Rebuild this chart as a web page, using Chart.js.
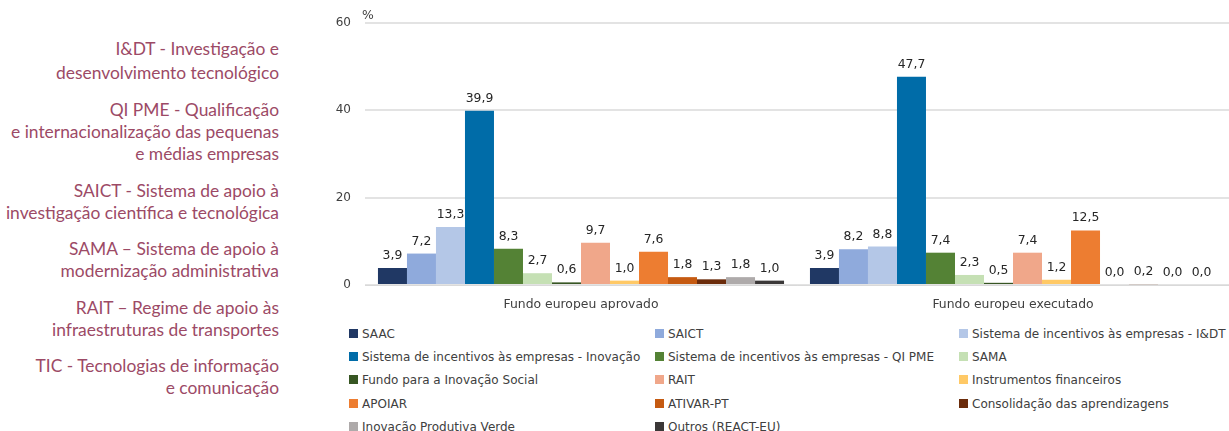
<!DOCTYPE html>
<html>
<head>
<meta charset="utf-8">
<script src="https://cdn.jsdelivr.net/npm/chart.js@4"></script>
<style>
  body { margin: 0; background: #fff; width: 1229px; height: 431px; overflow: hidden; position: relative; }
  #notas { position: absolute; left: 0; top: 37px; width: 279px; text-align: right;
           font-family: Lato, "Open Sans", sans-serif; font-size: 17.4px; line-height: 22px; color: #9c4a66; }
  #notas p { margin: 0 0 14.5px 0; }
  #notas p:first-child { line-height: 24px; margin-bottom: 14px; }
  #grafico { position: absolute; left: 320px; top: 0; width: 909px; height: 310px; }
  #legenda { position: absolute; left: 0; top: 0; font-family: "DejaVu Sans", sans-serif; font-size: 12px; color: #404040; }
  #legenda div { position: absolute; white-space: nowrap; line-height: 14px; }
  #legenda span { display: inline-block; width: 9px; height: 9px; margin-right: 4px; vertical-align: 0px; }
</style>
</head>
<body>
<div id="notas">
  <p>I&amp;DT - Investigação e<br>desenvolvimento tecnológico</p>
  <p>QI PME - Qualificação<br>e internacionalização das pequenas<br>e médias empresas</p>
  <p>SAICT - Sistema de apoio à<br>investigação científica e tecnológica</p>
  <p>SAMA – Sistema de apoio à<br>modernização administrativa</p>
  <p>RAIT – Regime de apoio às<br>infraestruturas de transportes</p>
  <p>TIC - Tecnologias de informação<br>e comunicação</p>
</div>
<div id="grafico"><canvas id="fundosChart"></canvas></div>
<div id="legenda"></div>
<script>
// Categorias e séries
var categorias = ['Fundo europeu aprovado', 'Fundo europeu executado'];
var series = ['SAAC', 'SAICT', 'Sistema de incentivos às empresas - I&DT',
  'Sistema de incentivos às empresas - Inovação', 'Sistema de incentivos às empresas - QI PME', 'SAMA',
  'Fundo para a Inovação Social', 'RAIT', 'Instrumentos financeiros',
  'APOIAR', 'ATIVAR-PT', 'Consolidação das aprendizagens',
  'Inovação Produtiva Verde', 'Outros (REACT-EU)'];
var valoresAprovado = [3.9, 7.2, 13.3, 39.9, 8.3, 2.7, 0.6, 9.7, 1.0, 7.6, 1.8, 1.3, 1.8, 1.0];
var valoresExecutado = [3.9, 8.2, 8.8, 47.7, 7.4, 2.3, 0.5, 7.4, 1.2, 12.5, 0.0, 0.2, 0.0, 0.0];
var cores = ['#203864', '#8faadc', '#b4c7e7', '#006ca8', '#548235', '#c5e0b4', '#375623',
  '#f0a78a', '#ffc966', '#ed7d31', '#c55a11', '#6b2c0b', '#aeaaaa', '#3b3838'];
var ticksY = [0, 20, 40, 60];

var datasets = series.map(function (nome, i) {
  return {
    label: nome,
    backgroundColor: cores[i],
    borderWidth: 0,
    data: [valoresAprovado[i], valoresExecutado[i]]
  };
});

// rótulos de valor por cima das barras
var rotulos = {
  id: 'rotulos',
  afterDatasetsDraw: function (chart) {
    var ctx = chart.ctx;
    ctx.save();
    ctx.font = '12.4px "DejaVu Sans"';
    ctx.fillStyle = '#262626';
    ctx.textAlign = 'center';
    ctx.textBaseline = 'bottom';
    chart.data.datasets.forEach(function (ds, i) {
      chart.getDatasetMeta(i).data.forEach(function (bar, j) {
        ctx.fillText(ds.data[j].toFixed(1).replace('.', ','), bar.x, bar.y - 6);
      });
    });
    ctx.fillStyle = '#404040';
    ctx.textAlign = 'left';
    ctx.fillText('%', chart.chartArea.left - 3, 22);
    ctx.restore();
  }
};

var ctx = document.getElementById('fundosChart').getContext('2d');
var fundosChart = new Chart(ctx, {
  type: 'bar',
  data: { labels: categorias, datasets: datasets },
  options: {
    responsive: true,
    maintainAspectRatio: false,
    animation: false,
    layout: { padding: { top: 23, right: 0, left: 0, bottom: 0 } },
    datasets: { bar: { categoryPercentage: 0.94, barPercentage: 1.0 } },
    plugins: { legend: { display: false }, tooltip: { enabled: false } },
    scales: {
      x: {
        afterFit: function (s) { s.height = 25; },
        grid: { display: false },
        border: { color: '#d9d9d9', width: 1 },
        ticks: { color: '#404040', font: { family: 'DejaVu Sans', size: 12.4 }, padding: 4 }
      },
      y: {
        min: 0, max: 60,
        afterFit: function (s) { s.width = 45; },
        afterBuildTicks: function (s) { s.ticks = ticksY.map(function (v) { return { value: v }; }); },
        grid: { color: '#e3e3e3', lineWidth: 2, drawTicks: false },
        border: { display: false },
        ticks: { color: '#404040', font: { family: 'DejaVu Sans', size: 12 }, padding: 14 }
      }
    }
  },
  plugins: [rotulos]
});

// legenda em três colunas
var colunas = [349, 655, 959];
var linhas = [327, 350, 373, 397, 420];
var legenda = document.getElementById('legenda');
series.forEach(function (nome, i) {
  var d = document.createElement('div');
  d.style.left = colunas[i % 3] + 'px';
  d.style.top = linhas[Math.floor(i / 3)] + 'px';
  var q = document.createElement('span');
  q.style.background = cores[i];
  d.appendChild(q);
  d.appendChild(document.createTextNode(nome));
  legenda.appendChild(d);
});
</script>
</body>
</html>
